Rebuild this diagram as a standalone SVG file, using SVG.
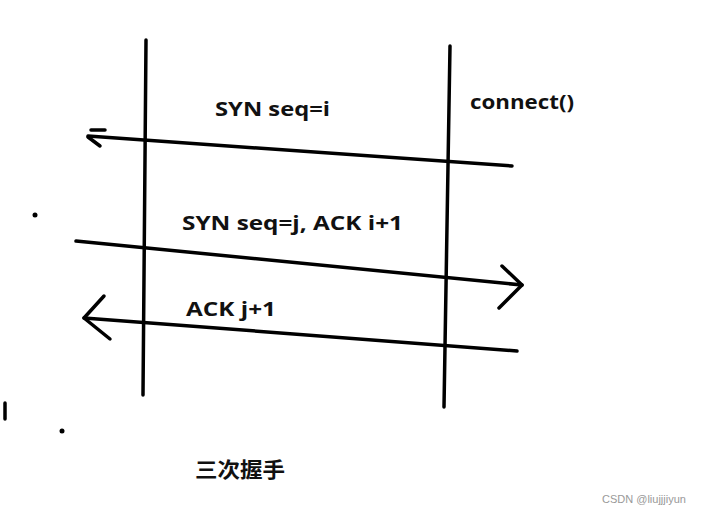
<svg xmlns="http://www.w3.org/2000/svg" width="706" height="512" viewBox="0 0 706 512">
<style>
.ln{stroke:#000;stroke-width:3.5;fill:none;stroke-linecap:round;stroke-linejoin:round}
.t{font-family:"Open Sans","Liberation Sans",sans-serif;font-weight:bold;font-size:19.5px;fill:#111}
.cjk{font-family:"Noto Sans CJK SC",sans-serif;font-weight:bold;font-size:21px;fill:#111}
.wm{font-family:"Liberation Sans",sans-serif;font-size:11px;fill:#999}
</style>
<rect width="706" height="512" fill="#fff"/>
<g id="lifeline-left"><path class="ln" d="M146,40 L143,395"/></g>
<g id="lifeline-right"><path class="ln" d="M450,46 L444,407"/></g>
<g id="connectors">
<path class="ln" d="M512,166 L88,136"/>
<path class="ln" d="M91,130 L105,130 M88,137 L100,146"/>
<path class="ln" d="M76,241 L522,285"/>
<path class="ln" d="M502,266 L522,285 L499,308"/>
<path class="ln" d="M517,351 L84,318"/>
<path class="ln" d="M104,296 L84,318 L110,339"/>
</g>
<g id="labels">
<text class="t" x="215" y="116" textLength="115" lengthAdjust="spacingAndGlyphs">SYN seq=i</text>
<text class="t" x="470" y="109" textLength="104" lengthAdjust="spacingAndGlyphs">connect()</text>
<text class="t" x="182" y="230" textLength="221" lengthAdjust="spacingAndGlyphs">SYN seq=j, ACK i+1</text>
<text class="t" x="186" y="316" textLength="90" lengthAdjust="spacingAndGlyphs">ACK j+1</text>
<text class="cjk" x="195" y="477" textLength="90" lengthAdjust="spacingAndGlyphs">三次握手</text>
</g>
<g id="marks">
<circle cx="35" cy="215" r="2.5" fill="#000"/>
<circle cx="62" cy="431" r="2.5" fill="#000"/>
<path class="ln" d="M5,403 L5,419"/>
</g>
<text class="wm" x="602" y="503">CSDN @liujjjiyun</text>
</svg>
